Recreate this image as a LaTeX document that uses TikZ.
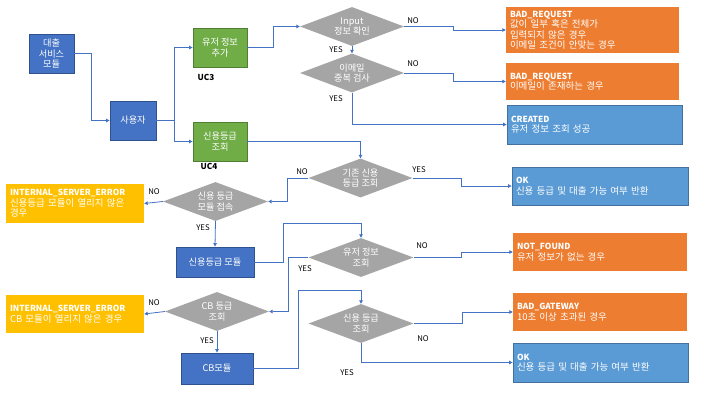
\documentclass[tikz,border=0pt]{standalone}
\usepackage{fontspec}
\setmainfont{Noto Sans CJK KR}
\usetikzlibrary{arrows.meta,shapes.geometric,calc}
\definecolor{dblue}{HTML}{4472C4}
\definecolor{dblueb}{HTML}{2F528F}
\definecolor{ugreen}{HTML}{70AD47}
\definecolor{ugreenb}{HTML}{507E32}
\definecolor{rorange}{HTML}{ED7D31}
\definecolor{lblue}{HTML}{5B9BD5}
\definecolor{lblueb}{HTML}{41719C}
\definecolor{ryellow}{HTML}{FFC000}
\definecolor{dgray}{HTML}{A5A5A5}
\definecolor{cblue}{HTML}{4472C4}
\newcommand{\ttl}[1]{{\fontsize{8.4}{10.5}\selectfont\bfseries #1}}
\begin{document}
\begin{tikzpicture}[x=1pt,y=-1pt,
  boxtxt/.style={rectangle, inner sep=0pt, text=white, align=center, font=\fontsize{9.2}{10.2}\selectfont},
  modbox/.style={boxtxt, fill=dblue, draw=dblueb, line width=0.8pt},
  ucbox/.style={boxtxt, fill=ugreen, draw=ugreenb, line width=0.8pt},
  resbox/.style={rectangle, inner sep=4pt, text=white, align=left, font=\fontsize{9.5}{10.5}\selectfont},
  dia/.style={diamond, aspect=2.67, inner sep=0pt, fill=dgray, text=white, align=center, font=\fontsize{9.2}{10.8}\selectfont, minimum width=104pt, minimum height=39pt},
  lab/.style={inner sep=0pt, text=black, font=\fontsize{7.8}{9}\selectfont},
  uclab/.style={inner sep=0pt, text=black, font=\bfseries\fontsize{8.2}{9}\selectfont},
  conn/.style={draw=cblue, line width=0.8pt, -{Triangle[length=3.5pt,width=3.5pt]}}
]
\useasboundingbox (0,0) rectangle (720,405);

% left modules
\node[modbox, minimum width=45pt, minimum height=39pt] (svc) at (51.5,53.5) {대출\\서비스\\모듈};
\node[modbox, minimum width=46pt, minimum height=39pt] (user) at (133,120.5) {사용자};
\node[ucbox, minimum width=54pt, minimum height=39pt] (uadd) at (220,47.5) {유저 정보\\추가};
\node[ucbox, minimum width=54pt, minimum height=39pt] (cq) at (220,141.5) {신용등급\\조회};
\node[uclab] (uc3) at (206,77) {UC3};
\node[uclab] (uc4) at (209,166) {UC4};

% diamonds
\node[dia] (d1) at (352,26.5) {Input\\정보 확인};
\node[dia] (d2) at (352,73) {이메일\\중복 검사};
\node[dia] (d3) at (360.5,178) {기존 신용\\등급 조회};
\node[dia, minimum width=105pt] (d4) at (215.5,201.5) {신용 등급\\모듈 접속};
\node[dia, minimum width=105pt] (d5) at (361,257.5) {유저 정보\\조회};
\node[dia] (d6) at (217,311.5) {CB 등급\\조회};
\node[dia, minimum width=105pt] (d7) at (361,323.5) {신용 등급\\조회};

% modules lower
\node[modbox, minimum width=78pt, minimum height=30pt] (mod) at (215,262) {신용등급 모듈};
\node[modbox, minimum width=72pt, minimum height=31pt] (cb) at (217,368.5) {CB모듈};

% result boxes
\node[resbox, fill=rorange, text width=165pt, minimum height=46pt] (br1) at (592.5,30) {\ttl{BAD\_REQUEST}\\값이 일부 혹은 전체가\\입력되지 않은 경우\\이메일 조건이 안맞는 경우};
\node[resbox, fill=rorange, text width=165pt, minimum height=37pt] (br2) at (592.5,81.5) {\ttl{BAD\_REQUEST}\\이메일이 존재하는 경우};
\node[resbox, fill=lblue, draw=lblueb, line width=0.8pt, text width=167pt, minimum height=39pt] (created) at (594.5,124.5) {\ttl{CREATED}\\유저 정보 조회 성공};
\node[resbox, fill=lblue, draw=lblueb, line width=0.8pt, text width=168pt, minimum height=38pt] (ok1) at (600,186) {\ttl{OK}\\신용 등급 및 대출 가능 여부 반환};
\node[resbox, fill=ryellow, text width=130pt, minimum height=39pt] (ise1) at (75,203.5) {\ttl{INTERNAL\_SERVER\_ERROR}\\신용등급 모듈이 열리지 않은\\경우};
\node[resbox, fill=rorange, text width=166pt, minimum height=38pt] (nf) at (600,252) {\ttl{NOT\_FOUND}\\유저 정보가 없는 경우};
\node[resbox, fill=ryellow, text width=130pt, minimum height=38pt] (ise2) at (75,314) {\ttl{INTERNAL\_SERVER\_ERROR}\\CB 모듈이 열리지 않은 경우};
\node[resbox, fill=rorange, text width=166pt, minimum height=38pt] (bg) at (600,312) {\ttl{BAD\_GATEWAY}\\10초 이상 초과된 경우};
\node[resbox, fill=lblue, draw=lblueb, line width=0.8pt, text width=167pt, minimum height=39pt] (ok2) at (600.5,362.5) {\ttl{OK}\\신용 등급 및 대출 가능 여부 반환};

% connectors
\draw[conn] (svc.east) -| ([xshift=-18pt]user.west) -- (user.west);
\draw[conn] (user.east) -| ([xshift=-18pt]uadd.west) -- (uadd.west);
\draw[conn] (user.east) -| ([xshift=-18pt]cq.west) -- (cq.west);
\draw[conn] (uadd.east) -| ([xshift=-26pt]d1.west) -- (d1.west);
\draw[conn] (d1.east) -| ([xshift=-52pt]br1.west) -- (br1.west);
\draw[conn] (d1.south) -- (d2.north);
\draw[conn] (d2.east) -| ([xshift=-52pt]br2.west) -- (br2.west);
\draw[conn] (d2.south) |- (created.west);
\draw[conn] (cq.east) -| (d3.north);
\draw[conn] (d3.east) -| ([xshift=-50pt]ok1.west) -- (ok1.west);
\draw[conn] (d3.west) -| ([xshift=19pt]d4.east) -- (d4.east);
\draw[conn] (d4.west) -- (ise1.east);
\draw[conn] (d4.south) -- (mod.north);
\draw[conn] (mod.east) -- ++(29,0) |- ([yshift=14pt]d5.north) -- (d5.north);
\draw[conn] (d5.east) -| ([xshift=-51pt]nf.west) -- (nf.west);
\draw[conn] (d5.west) -| ([xshift=19pt]d6.east) -- (d6.east);
\draw[conn] (d6.west) -- (ise2.east);
\draw[conn] (d6.south) -- (cb.north);
\draw[conn] (cb.east) -- ++(45,0) |- ([yshift=13pt]d7.north) -- (d7.north);
\draw[conn] (d7.east) -| ([xshift=-50pt]bg.west) -- (bg.west);
\draw[conn] (d7.south) |- (ok2.west);

% labels
\node[lab] (n1) at (413,21) {NO};
\node[lab] (y1) at (336,50) {YES};
\node[lab] (n2) at (413,64) {NO};
\node[lab] (y2) at (336,99) {YES};
\node[lab] (y3) at (419,170) {YES};
\node[lab] (n3) at (302,172) {NO};
\node[lab] (n4) at (154,192) {NO};
\node[lab] (y4) at (203,228) {YES};
\node[lab] (n5) at (422,246) {NO};
\node[lab] (y5) at (305,269) {YES};
\node[lab] (n6) at (154,303) {NO};
\node[lab] (y6) at (207,341) {YES};
\node[lab] (n7) at (423,339) {NO};
\node[lab] (y7) at (347,373) {YES};
\end{tikzpicture}
\end{document}
